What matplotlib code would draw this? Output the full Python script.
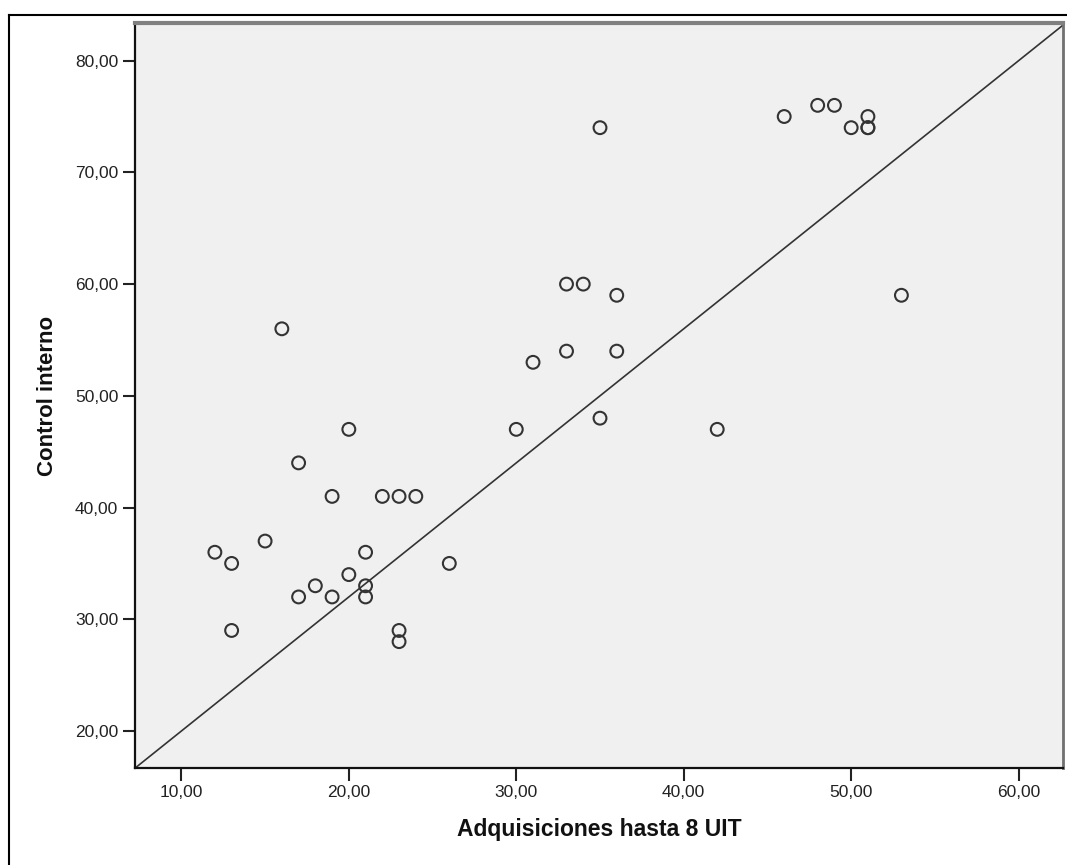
import matplotlib
matplotlib.use("Agg")
import matplotlib.pyplot as plt
from matplotlib.lines import Line2D
from matplotlib.ticker import FuncFormatter

# Scatter data (Adquisiciones hasta 8 UIT vs Control interno)
adquisiciones = [12, 13, 13, 15, 16, 17, 17, 18, 19, 19,
                 20, 20, 21, 21, 21, 22, 23, 24, 23, 23,
                 26, 30, 31, 33, 34, 33, 36, 36, 35, 35,
                 42, 53, 46, 48, 49, 50, 51, 51, 51]
control = [36, 35, 29, 37, 56, 44, 32, 33, 41, 32,
           47, 34, 36, 33, 32, 41, 41, 41, 29, 28,
           35, 47, 53, 60, 60, 54, 59, 54, 48, 74,
           47, 59, 75, 76, 76, 74, 75, 74, 74]

# reference line
line_intercept = 8.0
line_slope = 1.2

x_ticks = [10, 20, 30, 40, 50, 60]
y_ticks = [20, 30, 40, 50, 60, 70, 80]
x_lim = (7.23, 62.65)
y_lim = (16.69, 83.37)

W, H = 1067, 865
fig = plt.figure(figsize=(W / 100, H / 100), dpi=100)
fig.patch.set_facecolor("white")

ax = fig.add_axes([135 / W, (H - 768) / H, (1063 - 135) / W, (768 - 23) / H])
ax.set_facecolor("#f0f0f0")

ax.scatter(adquisiciones, control, s=85, facecolors="none",
           edgecolors="#333333", linewidths=1.5, zorder=3)

xs = list(x_lim)
ax.plot(xs, [line_intercept + line_slope * v for v in xs],
        color="#333333", linewidth=1.2, zorder=2)

ax.set_xlim(x_lim)
ax.set_ylim(y_lim)
ax.set_xticks(x_ticks)
ax.set_yticks(y_ticks)
fmt = FuncFormatter(lambda v, p: ("%.2f" % v).replace(".", ","))
ax.xaxis.set_major_formatter(fmt)
ax.yaxis.set_major_formatter(fmt)

for lab in ax.get_xticklabels() + ax.get_yticklabels():
    lab.set_family(["Liberation Sans", "DejaVu Sans"])
    lab.set_fontsize(12.5)
    lab.set_color("#222222")
ax.tick_params(axis="both", length=9, width=1.5, color="#222222", pad=3)

for side in ["left", "bottom"]:
    ax.spines[side].set_linewidth(1.6)
    ax.spines[side].set_color("#111111")
ax.spines["top"].set_linewidth(3)
ax.spines["top"].set_color("#808080")
ax.spines["right"].set_linewidth(2)
ax.spines["right"].set_color("#707070")

label_font = ["Liberation Sans Narrow", "Liberation Sans", "DejaVu Sans"]
ax.set_xlabel("Adquisiciones hasta 8 UIT", fontsize=16.5, fontweight="bold",
              family=label_font, labelpad=13, color="#111111")
ax.set_ylabel("Control interno", fontsize=16, fontweight="bold",
              family=label_font, labelpad=12, color="#111111")

# outer frame of the exported SPSS chart (left and top edges visible)
fig.add_artist(Line2D([9 / W, 9 / W], [0, 1 - 15 / H], transform=fig.transFigure,
                      color="black", linewidth=1.5))
fig.add_artist(Line2D([9 / W, 1], [1 - 15 / H, 1 - 15 / H], transform=fig.transFigure,
                      color="black", linewidth=1.5))

fig.savefig("out.png", dpi=100)
